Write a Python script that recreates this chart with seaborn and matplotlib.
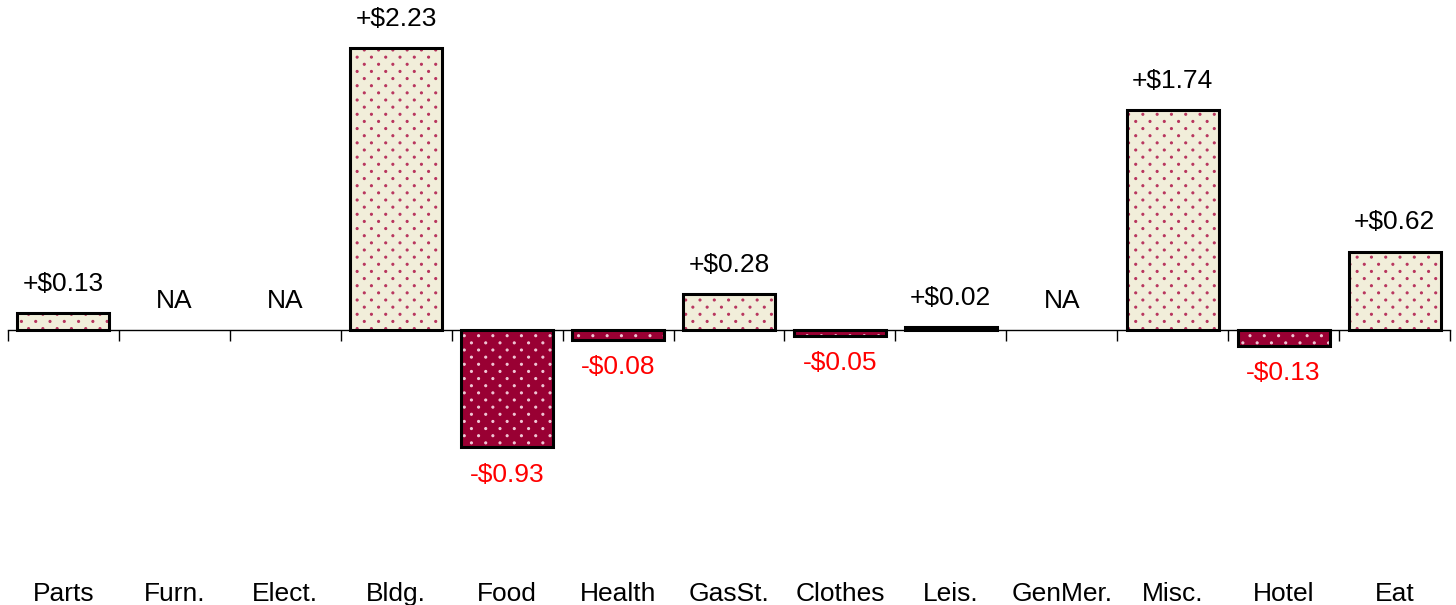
import numpy as np
import pandas as pd
import matplotlib
matplotlib.use("Agg")
import matplotlib.pyplot as plt
import matplotlib.hatch as mhatch
import seaborn as sns

# Data (NaN = NA)
categories = ["Parts", "Furn.", "Elect.", "Bldg.", "Food", "Health", "GasSt.",
              "Clothes", "Leis.", "GenMer.", "Misc.", "Hotel", "Eat"]
changes = [0.13, np.nan, np.nan, 2.23, -0.93, -0.08, 0.28,
           -0.05, 0.02, np.nan, 1.74, -0.13, 0.62]

CREAM = "#F1EEDA"
CRIMSON = "#990033"
CREAM_DOT = "#B8345E"
CRIMSON_DOT = "#F0C8D6"


# '.' hatch with staggered dots and rows twice as dense as the columns
class StaggeredDots(mhatch.Shapes):
    filled = True
    size = 0.07

    def __init__(self, hatch, density):
        n = 7 if hatch.count(".") else 0
        self.num_rows = n
        self.shape_vertices = matplotlib.path.Path.unit_circle().vertices
        self.shape_codes = matplotlib.path.Path.unit_circle().codes
        if n == 0:
            self.num_shapes = 0
            self.num_vertices = 0
        else:
            self.num_shapes = (n + 1) ** 2 + n ** 2
            self.num_vertices = self.num_shapes * len(self.shape_vertices)
        mhatch.HatchPatternBase.__init__(self)

    def set_vertices_and_codes(self, vertices, codes):
        n = self.num_rows
        offset = 1.0 / n
        shape_vertices = self.shape_vertices * offset * self.size
        verts, cods = [], []
        for row in range(2 * n + 1):
            if row % 2 == 0:
                cols = np.linspace(0, 1, n + 1)
            else:
                cols = np.linspace(offset / 2, 1 - offset / 2, n)
            for col in cols:
                verts.append(shape_vertices + [col, row * offset / 2])
                cods.append(self.shape_codes)
        np.concatenate(verts, out=vertices)
        np.concatenate(cods, out=codes)


mhatch._hatch_types = [StaggeredDots if t is mhatch.SmallFilledCircles else t
                       for t in mhatch._hatch_types]

sns.set_style("white")
plt.rcParams["font.family"] = ["Liberation Sans", "DejaVu Sans"]
plt.rcParams["hatch.linewidth"] = 0.8

df = pd.DataFrame({"cat": categories, "val": changes})
df["sign"] = np.where(df["val"] < 0, "neg", "pos")
plot_df = df.dropna()

fig = plt.figure(figsize=(14.56, 6.05), dpi=100)
ax = fig.add_axes([8 / 1456, 40 / 605, 1442 / 1456, 560 / 605])

sns.barplot(data=plot_df, x="cat", y="val", hue="sign", order=categories,
            palette={"pos": CREAM, "neg": CRIMSON}, dodge=False, width=0.83,
            saturation=1, legend=False, ax=ax)

# dotted fill: hatch colour follows edgecolor, so outline is drawn separately
for p in ax.patches:
    fc = matplotlib.colors.to_hex(p.get_facecolor())
    dot = CRIMSON_DOT if fc.lower() == CRIMSON.lower() else CREAM_DOT
    p.set_hatch(".")
    p.set_edgecolor(dot)
    p.set_linewidth(0)

sns.barplot(data=plot_df, x="cat", y="val", order=categories, fill=False,
            color="black", width=0.83, linewidth=2.2, saturation=1, ax=ax)

ymin, ymax = -1.86, 2.57
ax.set_xlim(-0.5, len(categories) - 0.5)
ax.set_ylim(ymin, ymax)

# value labels
for i, v in enumerate(changes):
    if np.isnan(v):
        ax.annotate("NA", (i, 0), xytext=(0, 21), textcoords="offset points",
                    ha="center", va="center", fontsize=19, color="black")
    elif v >= 0:
        ax.annotate(f"+${v:.2f}", (i, v), xytext=(0, 21), textcoords="offset points",
                    ha="center", va="center", fontsize=19, color="black")
    else:
        ax.annotate(f"-${abs(v):.2f}", (i, v), xytext=(0, -19.5), textcoords="offset points",
                    ha="center", va="center", fontsize=19, color="#FF0000")

# category axis line at zero with ticks between categories
zero_frac = (0 - ymin) / (ymax - ymin)
sec = ax.secondary_xaxis(zero_frac)
sec.set_xticks(np.arange(len(categories) + 1) - 0.5)
sec.set_xticklabels([])
sec.tick_params(axis="x", direction="out", length=8, width=1, color="black")
sec.spines["bottom"].set_linewidth(1)
sec.spines["bottom"].set_color("black")

ax.set_xlabel("")
ax.set_ylabel("")
ax.set_yticks([])
ax.set_xticks(range(len(categories)))
ax.set_xticklabels(categories, fontsize=19, color="black")
ax.tick_params(axis="x", length=0, pad=12)
for s in ax.spines.values():
    s.set_visible(False)

fig.savefig("out.png", dpi=100)
